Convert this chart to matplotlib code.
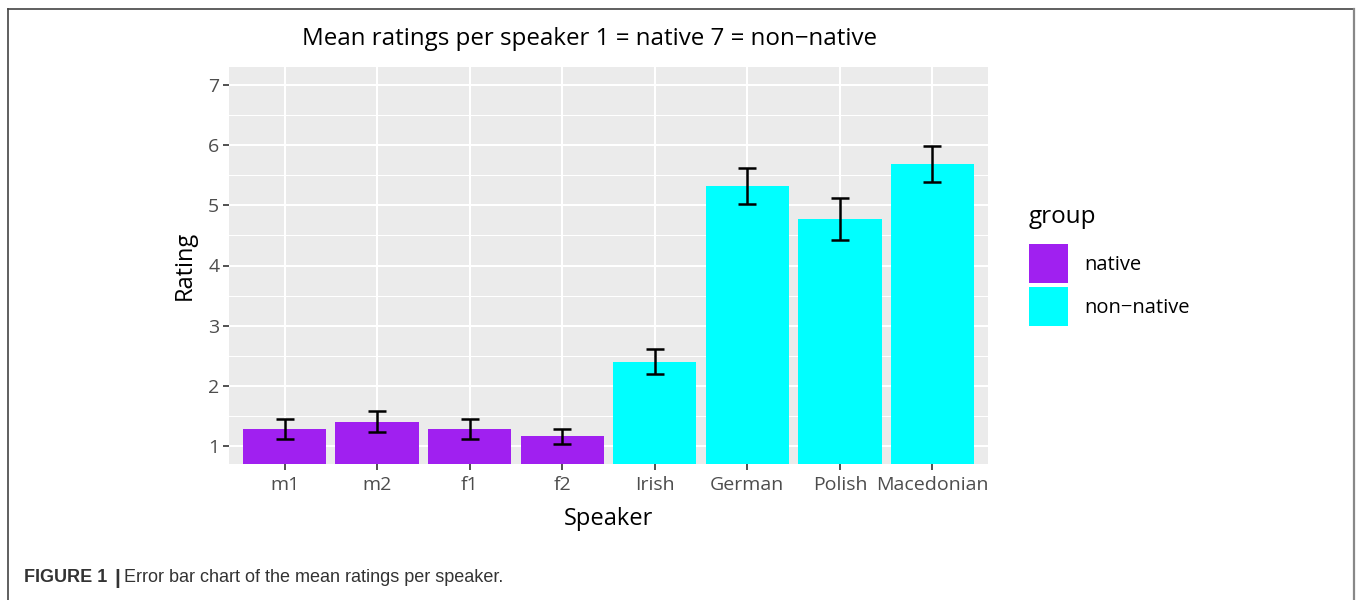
import matplotlib
matplotlib.use("Agg")
import matplotlib.pyplot as plt
from matplotlib.lines import Line2D
import numpy as np

speakers = ["m1", "m2", "f1", "f2", "Irish", "German", "Polish", "Macedonian"]
groups = ["native", "native", "native", "native",
          "non-native", "non-native", "non-native", "non-native"]
means = [1.28, 1.40, 1.28, 1.17, 2.40, 5.32, 4.77, 5.68]
err_hi = [1.45, 1.58, 1.45, 1.28, 2.62, 5.62, 5.12, 5.98]
err_lo = [1.12, 1.23, 1.12, 1.03, 2.20, 5.02, 4.43, 5.38]
yticks = [1, 2, 3, 4, 5, 6, 7]

colours = {"native": "#A020F0", "non-native": "#00FFFF"}
font = "Open Sans"
cap_font = ["Liberation Sans Narrow", "Liberation Sans"]

W, H = 1360, 600
fig = plt.figure(figsize=(W / 100, H / 100), dpi=100)
fig.patch.set_facecolor("white")

# outer page frame
fig.add_artist(Line2D([8 / W, 8 / W], [0, 1 - 9 / H], color="#444444", lw=1.2))
fig.add_artist(Line2D([8 / W, 1354 / W], [1 - 9 / H, 1 - 9 / H], color="#444444", lw=1.2))
fig.add_artist(Line2D([1354 / W, 1354 / W], [0, 1 - 9 / H], color="#888888", lw=1.6))

px_l, px_r, px_t, px_b = 229, 988, 67, 464
ax = fig.add_axes([px_l / W, 1 - px_b / H, (px_r - px_l) / W, (px_b - px_t) / H])
ax.set_facecolor("#EBEBEB")

x = np.arange(len(speakers))
cols = [colours[g] for g in groups]
ax.bar(x, means, width=0.9, color=cols, zorder=2)
lo = np.array(means) - np.array(err_lo)
hi = np.array(err_hi) - np.array(means)
ax.errorbar(x, means, yerr=[lo, hi], fmt="none", ecolor="black",
            elinewidth=1.8, capsize=6.5, capthick=1.8, zorder=3)

ax.set_xlim(-0.6, len(speakers) - 0.4)
ax.set_ylim(0.7, 7.3)
ax.set_yticks(yticks)
ax.set_yticks([v + 0.5 for v in yticks[:-1]], minor=True)
ax.set_xticks(x)
ax.set_xticklabels(speakers)
ax.grid(which="major", color="white", lw=1.5, zorder=0)
ax.grid(which="minor", axis="y", color="white", lw=0.75, zorder=0)
ax.set_axisbelow(True)
for s in ax.spines.values():
    s.set_visible(False)
ax.tick_params(which="major", length=4, width=1.2, color="#333333",
               labelcolor="#4D4D4D", labelsize=14, pad=3)
ax.tick_params(axis="x", pad=5)
ax.tick_params(which="minor", length=0)
for lab in ax.get_xticklabels() + ax.get_yticklabels():
    lab.set_family(font)

ax.set_xlabel("Speaker", fontsize=17, family=font, labelpad=9)
ax.set_ylabel("Rating", fontsize=17, family=font, labelpad=8)

fig.text(589 / W, 1 - 39 / H, "Mean ratings per speaker 1 = native 7 = non\u2212native",
         ha="center", va="center", fontsize=17.4, family=font)

# legend
fig.text(1029 / W, 1 - 217 / H, "group", ha="left", va="center", fontsize=17.5, family=font)
for i, g in enumerate(["native", "non-native"]):
    top = 244 + i * 43
    fig.add_artist(plt.Rectangle((1029 / W, 1 - (top + 39) / H), 39 / W, 39 / H,
                                 transform=fig.transFigure, facecolor=colours[g],
                                 edgecolor="none"))
    fig.text(1084 / W, 1 - (top + 21) / H, g.replace("-", "\u2212"),
             ha="left", va="center", fontsize=14.5, family=font)

fig.text(24 / W, 1 - 578 / H, "FIGURE 1", ha="left", va="center", fontsize=13,
         fontweight="bold", family=cap_font, color="#333333")
fig.text(114 / W, 1 - 578 / H, "|", ha="left", va="center", fontsize=15,
         fontweight="bold", family=cap_font, color="#333333")
fig.text(124 / W, 1 - 578 / H, "Error bar chart of the mean ratings per speaker.",
         ha="left", va="center", fontsize=13, family=cap_font, color="#333333")

fig.savefig("out.png", dpi=100)
